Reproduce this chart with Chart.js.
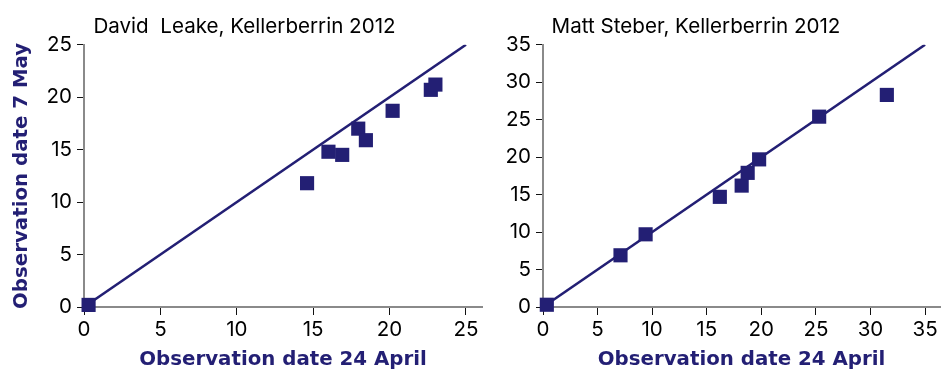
<!DOCTYPE html>
<html>
<head>
<meta charset="utf-8">
<script src="https://cdn.jsdelivr.net/npm/chart.js@4/dist/chart.umd.min.js"></script>
<style>
  html, body { margin: 0; padding: 0; background: #ffffff; }
  body { width: 941px; height: 372px; position: relative; overflow: hidden; }
  canvas { position: absolute; top: 0; }
  #c1 { left: 0px; }
  #c2 { left: 452px; }
</style>
</head>
<body>
<canvas id="c1" width="484" height="372"></canvas>
<canvas id="c2" width="489" height="372"></canvas>
<script>
// ---- Data ----
const leakeTitle = 'David  Leake, Kellerberrin 2012';
const steberTitle = 'Matt Steber, Kellerberrin 2012';
const xAxisTitle = 'Observation date 24 April';
const yAxisTitle = 'Observation date 7 May';

const leakeApril = [0.3, 14.6, 16.0, 16.9, 17.95, 18.45, 20.2, 22.7, 23.0];
const leakeMay   = [0.2, 11.8, 14.8, 14.5, 17.0, 15.9, 18.7, 20.7, 21.2];

const steberApril = [0.35, 7.1, 9.4, 16.2, 18.2, 18.75, 19.8, 25.3, 31.5];
const steberMay   = [0.3, 6.9, 9.7, 14.7, 16.2, 17.9, 19.7, 25.4, 28.3];

const leakeLine  = [0, 25];   // 1:1 line end points
const steberLine = [0, 35];

const leakeYTicksMax = 25;
const steberYTicksMax = 35;

// ---- Styles ----
const NAVY = '#231f74';
const FONT = "Inter, 'Liberation Sans', Arial, sans-serif";
const BOLD_FONT = "'DejaVu Sans', Inter, 'Liberation Sans', sans-serif";

function pts(xs, ys) { return xs.map((x, i) => ({ x: x, y: ys[i] })); }

function makeChart(id, title, xs, ys, line, xMax, yMax, yWidth, pad, showYTitle) {
  const axisCommon = {
    type: 'linear',
    grid: { drawOnChartArea: false, drawTicks: true, tickLength: 7, tickColor: '#111', tickWidth: 1 },
    border: { display: true, color: '#8a8a8a', width: 2 },
  };
  return new Chart(document.getElementById(id), {
    data: {
      datasets: [
        {
          type: 'scatter',
          data: pts(xs, ys),
          pointStyle: 'rect',
          pointRadius: 10,
          pointHoverRadius: 10,
          pointBorderWidth: 0,
          backgroundColor: NAVY,
          borderColor: NAVY,
          clip: false,
        },
        {
          type: 'line',
          data: pts(line, line),
          borderColor: NAVY,
          borderWidth: 2.5,
          pointRadius: 0,
          fill: false,
          tension: 0,
        }
      ]
    },
    options: {
      responsive: false,
      animation: false,
      devicePixelRatio: 1,
      layout: { padding: pad, autoPadding: false },
      plugins: {
        legend: { display: false },
        tooltip: { enabled: false },
        title: {
          display: true,
          text: title,
          color: '#000',
          font: { family: FONT, size: 20.6, weight: 'normal' },
          padding: { top: 14, bottom: 6 },
        }
      },
      scales: {
        x: Object.assign({}, axisCommon, {
          position: 'bottom',
          min: 0,
          max: xMax,
          grid: Object.assign({}, axisCommon.grid, { tickLength: 8 }),
          ticks: { stepSize: 5, includeBounds: false, color: '#000', padding: 3, maxRotation: 0, autoSkip: false,
                   font: { family: FONT, size: 20.5 } },
          title: { display: true, text: xAxisTitle, color: NAVY, padding: { top: 0, bottom: 0 },
                   font: { family: BOLD_FONT, size: 19.8, weight: 'bold' } },
          afterFit: (s) => { s.height = 65; }
        }),
        y: Object.assign({}, axisCommon, {
          position: 'left',
          min: 0,
          max: yMax,
          ticks: { stepSize: 5, color: '#000', padding: 5, font: { family: FONT, size: 20.5 } },
          title: { display: showYTitle, text: yAxisTitle, color: NAVY, padding: { top: 3, bottom: 0 },
                   font: { family: BOLD_FONT, size: 19.8, weight: 'bold' } },
          afterFit: (s) => { s.width = yWidth; }
        })
      }
    }
  });
}

makeChart('c1', leakeTitle, leakeApril, leakeMay, leakeLine, 26.05, leakeYTicksMax, 77,
          { left: 7, right: 2, top: 0, bottom: 0 }, true);
makeChart('c2', steberTitle, steberApril, steberMay, steberLine, 36.37, steberYTicksMax, 91,
          { left: 0, right: 1, top: 0, bottom: 0 }, false);
</script>
</body>
</html>
